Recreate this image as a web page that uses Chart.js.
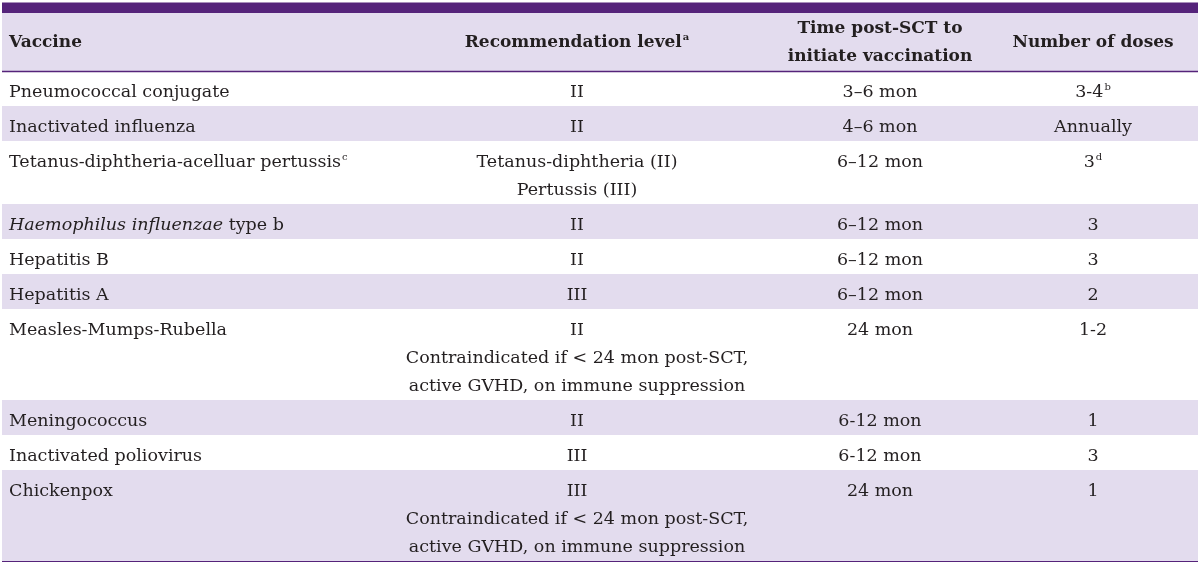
<!DOCTYPE html>
<html><head><meta charset="utf-8">
<script src="https://cdn.jsdelivr.net/npm/chart.js@4"></script>
<style>html,body{margin:0;padding:0;background:#fff}#wrap{width:1200px;height:566px;position:relative}</style>
</head><body><div id="wrap"><canvas id="c"></canvas></div>
<script>
// ---- table content (markup: ^x^ = superscript, _text_ = italic, \n = line break) ----
const headers = ["Vaccine", "Recommendation level^a^", "Time post-SCT to\ninitiate vaccination", "Number of doses"];
const vaccines = ["Pneumococcal conjugate", "Inactivated influenza", "Tetanus-diphtheria-acelluar pertussis^c^", "_Haemophilus influenzae_ type b", "Hepatitis B", "Hepatitis A", "Measles-Mumps-Rubella", "Meningococcus", "Inactivated poliovirus", "Chickenpox"];
const recommendationLevels = ["II", "II", "Tetanus-diphtheria (II)\nPertussis (III)", "II", "II", "III", "II\nContraindicated if < 24 mon post-SCT,\nactive GVHD, on immune suppression", "II", "III", "III\nContraindicated if < 24 mon post-SCT,\nactive GVHD, on immune suppression"];
const timeToInitiate = ["3–6 mon", "4–6 mon", "6–12 mon", "6–12 mon", "6–12 mon", "6–12 mon", "24 mon", "6-12 mon", "6-12 mon", "24 mon"];
const numberOfDoses = ["3-4^b^", "Annually", "3^d^", "3", "3", "2", "1-2", "1", "3", "1"];

// ---- layout / style ----
const PURPLE = '#55237a', LAV = '#e3dcee', INK = '#231f20';
const FONT = '"DejaVu Serif", serif';
const BODY_SIZE = 17.5, HEAD_SIZE = 17, SUP_SIZE = 10;
const X_LEFT = 2, X_RIGHT = 1198;
const TOPBAR = [2.5, 13], HEADER = [13, 71];
const FIRST_LINE = 35, NEXT_LINE = 28, BASE_OFF = 25.8;
const HEADER_BASE = 46.7, HEADER_LINE = 28;
const COLS = [{x: 9, align: 'left'}, {x: 577, align: 'center'}, {x: 880, align: 'center'}, {x: 1093, align: 'center'}];

const columns = [vaccines, recommendationLevels, timeToInitiate, numberOfDoses];
const nLines = vaccines.map((_, i) => Math.max(...columns.map(c => c[i].split('\n').length)));
const rowTops = [];
let acc = HEADER[1];
nLines.forEach(n => { rowTops.push(acc); acc += FIRST_LINE + NEXT_LINE * (n - 1); });
const tableBottom = acc;

function band(top, bottom, color) {
  return {data: [{x: X_LEFT, y: top}, {x: X_RIGHT, y: top}], fill: {value: bottom}, backgroundColor: color,
    borderWidth: 0, pointRadius: 0, order: 2};
}
function rule(yv, color, w) {
  return {data: [{x: X_LEFT, y: yv}, {x: X_RIGHT, y: yv}], fill: false, borderColor: color, borderWidth: w,
    pointRadius: 0, order: 1};
}
const datasets = [band(TOPBAR[0], TOPBAR[1], PURPLE), band(HEADER[0], HEADER[1], LAV)];
rowTops.forEach((t, i) => { if (i % 2 === 1) datasets.push(band(t, t + FIRST_LINE + NEXT_LINE * (nLines[i] - 1), LAV)); });
datasets.push(rule(HEADER[1] + 0.5, PURPLE, 1.5));
datasets.push(rule(tableBottom + 0.5, PURPLE, 1.2));

function parse(str) {
  const segs = []; const re = /\^([^^]*)\^|_([^_]*)_|([^^_]+)/g; let m;
  while ((m = re.exec(str))) {
    if (m[1] !== undefined) segs.push({t: m[1], s: 'sup'});
    else if (m[2] !== undefined) segs.push({t: m[2], s: 'it'});
    else segs.push({t: m[3], s: 'n'});
  }
  return segs;
}
function fontFor(s, bold) {
  const w = bold ? 'bold ' : '';
  const size = bold ? HEAD_SIZE : BODY_SIZE;
  if (s === 'sup') return w + SUP_SIZE + 'px ' + FONT;
  if (s === 'it') return 'italic ' + w + size + 'px ' + FONT;
  return w + size + 'px ' + FONT;
}
function drawRich(ctx, str, px, py, align, bold) {
  const segs = parse(str);
  let total = 0;
  segs.forEach(sg => { ctx.font = fontFor(sg.s, bold); sg.w = ctx.measureText(sg.t).width + (sg.s === 'sup' ? 1 : 0); total += sg.w; });
  let cx = align === 'center' ? px - total / 2 : px;
  segs.forEach(sg => {
    ctx.font = fontFor(sg.s, bold);
    ctx.fillText(sg.t, cx + (sg.s === 'sup' ? 1 : 0), sg.s === 'sup' ? py - 6.5 : py);
    cx += sg.w;
  });
}

const tableText = {
  id: 'tableText',
  afterDatasetsDraw(chart) {
    const {ctx, scales: {x, y}} = chart;
    ctx.save();
    ctx.fillStyle = INK; ctx.textBaseline = 'alphabetic'; ctx.textAlign = 'left';
    headers.forEach((h, c) => {
      const lines = h.split('\n');
      lines.forEach((ln, k) => {
        const yv = HEADER_BASE + (k - (lines.length - 1) / 2) * HEADER_LINE;
        drawRich(ctx, ln, x.getPixelForValue(COLS[c].x), y.getPixelForValue(yv), COLS[c].align, true);
      });
    });
    columns.forEach((col, c) => {
      col.forEach((cell, r) => {
        cell.split('\n').forEach((ln, k) => {
          const yv = rowTops[r] + BASE_OFF + k * NEXT_LINE;
          drawRich(ctx, ln, x.getPixelForValue(COLS[c].x), y.getPixelForValue(yv), COLS[c].align, false);
        });
      });
    });
    ctx.restore();
  }
};

new Chart(document.getElementById('c'), {
  type: 'line',
  data: {datasets},
  options: {
    animation: false, responsive: true, maintainAspectRatio: false, events: [],
    layout: {padding: 0},
    plugins: {legend: {display: false}, tooltip: {enabled: false}},
    scales: {
      x: {type: 'linear', min: 0, max: 1200, display: false},
      y: {type: 'linear', min: 0, max: 566, reverse: true, display: false}
    }
  },
  plugins: [tableText]
});
</script></body></html>
